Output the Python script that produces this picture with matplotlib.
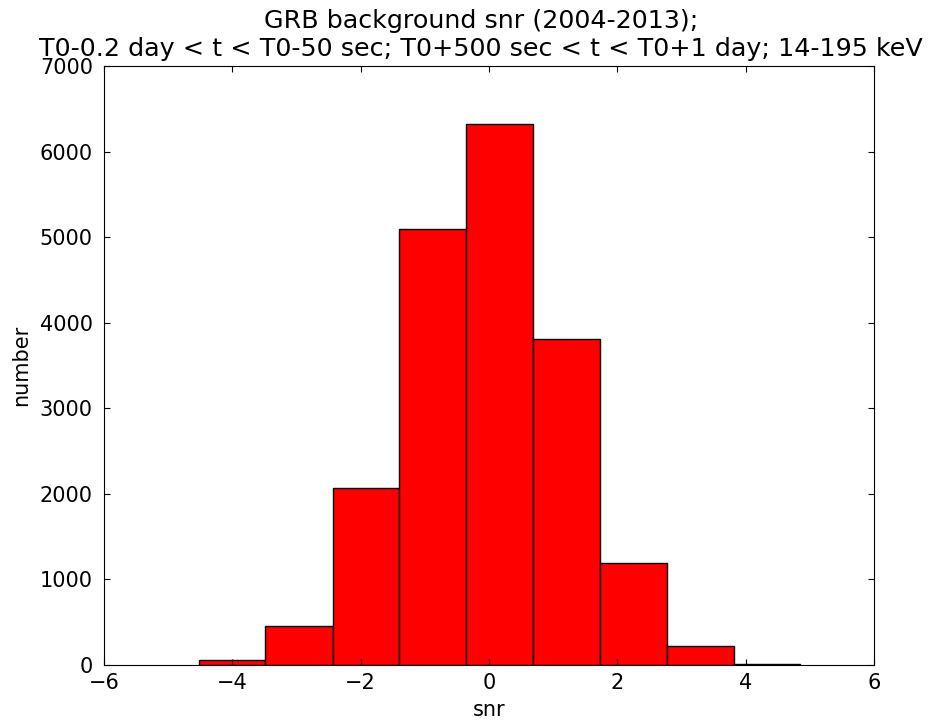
import numpy as np
import matplotlib
matplotlib.use('Agg')
from matplotlib import pyplot as plt

# bordas dos bins e contagens
edges = [-4.52, -3.49, -2.43, -1.40, -0.36, 0.685, 1.73, 2.77, 3.82, 4.85]
counts = [55, 455, 2070, 5090, 6320, 3810, 1190, 220, 15]

plt.rcParams['font.size'] = 15
plt.rcParams['xtick.direction'] = 'in'
plt.rcParams['ytick.direction'] = 'in'
plt.rcParams['xtick.top'] = True
plt.rcParams['ytick.right'] = True
plt.rcParams['xtick.major.size'] = 4
plt.rcParams['ytick.major.size'] = 4
plt.rcParams['xtick.major.pad'] = 6
plt.rcParams['ytick.major.pad'] = 8

fig = plt.figure(figsize=(9.3, 7.21), dpi=100)
ax = fig.add_axes([0.1118, 0.0777, 0.828, 0.8308])

ax.hist(edges[:-1], bins=edges, weights=counts, color='red',
        edgecolor='black', linewidth=1.0)

ax.set_xlim(-6, 6)
ax.set_ylim(0, 7000)
ax.set_xticks([-6, -4, -2, 0, 2, 4, 6])
ax.set_yticks(range(0, 7001, 1000))
ax.set_xlabel('snr', labelpad=5)
ax.set_ylabel('number', labelpad=6)
ax.set_title('GRB background snr (2004-2013);\n'
             'T0-0.2 day < t < T0-50 sec; T0+500 sec < t < T0+1 day; 14-195 keV',
             fontsize=18.3, pad=7, x=0.49)

fig.savefig('out.png', dpi=100)
